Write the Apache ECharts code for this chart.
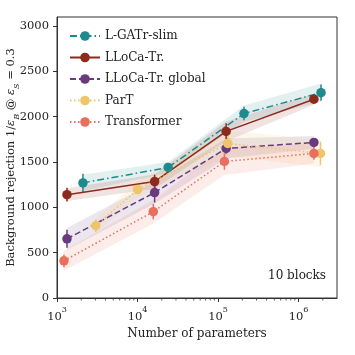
<!DOCTYPE html>
<html>
<head>
<meta charset="utf-8">
<script src="https://cdn.jsdelivr.net/npm/echarts@6/dist/echarts.min.js"></script>
<style>
  html, body { margin: 0; padding: 0; background: #fff; }
  #chart { width: 355px; height: 355px; }
</style>
</head>
<body>
<div id="chart"></div>
<script>
// data (x = number of parameters, y = 1/eps_B)
var gatrX = [2100, 24000, 210000, 1900000];
var gatrY = [1270, 1440, 2035, 2265];
var gatrErr = [100, 40, 75, 90];
var gatrBand = [90, 60, 90, 100];

var llocaX = [1330, 16300, 126000, 1550000];
var llocaY = [1140, 1285, 1838, 2193];
var llocaErr = [75, 75, 90, 40];
var llocaBand = [70, 80, 110, 60];

var globalX = [1330, 16300, 126000, 1550000];
var globalY = [653, 1163, 1650, 1716];
var globalErr = [100, 110, 60, 50];
var globalBand = [120, 120, 110, 70];

var partX = [3030, 10000, 132000, 1870000];
var partY = [797, 1196, 1705, 1595];
var partErr = [70, 40, 80, 130];
var partBand = [80, 90, 140, 150];

var transX = [1220, 15700, 120000, 1550000];
var transY = [410, 952, 1506, 1595];
var transErr = [70, 85, 90, 70];
var transBand = [110, 130, 150, 110];

var decades = [1000, 10000, 100000, 1000000];
var minorMult = [2, 3, 4, 5, 6, 7, 8, 9];

var FONT = "DejaVu Serif";
var myChart = echarts.init(document.getElementById("chart"));

function zip(xs, ys) {
  return xs.map(function (x, i) { return [x, ys[i]]; });
}

//阴影带
function bandSeries(xs, ys, band, color) {
  return {
    type: "custom",
    silent: true,
    z: 1,
    data: xs.map(function (x, i) { return [x, ys[i] - band[i], ys[i] + band[i]]; }),
    renderItem: function (params, api) {
      if (params.dataIndex !== 0) return;
      var upper = [], lower = [];
      for (var j = 0; j < xs.length; j++) {
        upper.push(api.coord([api.value(0, j), api.value(2, j)]));
        lower.unshift(api.coord([api.value(0, j), api.value(1, j)]));
      }
      return {
        type: "polygon",
        shape: { points: upper.concat(lower) },
        style: { fill: color, opacity: 0.13 },
      };
    },
  };
}

//误差线
function errSeries(xs, ys, err, color) {
  return {
    type: "custom",
    silent: true,
    z: 3,
    data: xs.map(function (x, i) { return [x, ys[i] - err[i], ys[i] + err[i]]; }),
    renderItem: function (params, api) {
      var a = api.coord([api.value(0), api.value(1)]);
      var b = api.coord([api.value(0), api.value(2)]);
      return {
        type: "line",
        shape: { x1: a[0], y1: a[1], x2: b[0], y2: b[1] },
        style: { stroke: color, lineWidth: 1.5 },
      };
    },
  };
}

function lineSeries(name, xs, ys, color, dash) {
  return {
    name: name,
    type: "line",
    z: 4,
    data: zip(xs, ys),
    symbol: "circle",
    symbolSize: 9.5,
    itemStyle: { color: color },
    lineStyle: { color: color, width: 1.5, type: dash },
  };
}

var series = [
  bandSeries(gatrX, gatrY, gatrBand, "#1f8a8e"),
  bandSeries(llocaX, llocaY, llocaBand, "#8c2a1e"),
  bandSeries(globalX, globalY, globalBand, "#6a3a7e"),
  bandSeries(partX, partY, partBand, "#f0c468"),
  bandSeries(transX, transY, transBand, "#e8705c"),
  errSeries(gatrX, gatrY, gatrErr, "#1f8a8e"),
  errSeries(llocaX, llocaY, llocaErr, "#8c2a1e"),
  errSeries(globalX, globalY, globalErr, "#6a3a7e"),
  errSeries(partX, partY, partErr, "#f0c468"),
  errSeries(transX, transY, transErr, "#e8705c"),
  lineSeries("L-GATr-slim", gatrX, gatrY, "#1f8a8e", [7, 3, 1.5, 3]),
  lineSeries("LLoCa-Tr.", llocaX, llocaY, "#8c2a1e", "solid"),
  lineSeries("LLoCa-Tr. global", globalX, globalY, "#6a3a7e", [6, 3]),
  lineSeries("ParT", partX, partY, "#f0c468", [1.5, 2.5]),
  lineSeries("Transformer", transX, transY, "#e8705c", [1.5, 2.5]),
  //x轴次刻度
  {
    type: "custom",
    silent: true,
    data: decades.reduce(function (acc, d) {
      minorMult.forEach(function (m) { if (d * m < 3e6) acc.push([d * m, 0]); });
      return acc;
    }, []),
    renderItem: function (params, api) {
      var p = api.coord([api.value(0), 0]);
      return {
        type: "line",
        shape: { x1: p[0], y1: p[1], x2: p[0], y2: p[1] + 2.5 },
        style: { stroke: "#333", lineWidth: 0.8 },
      };
    },
  },
];

myChart.setOption({
  animation: false,
  textStyle: { fontFamily: FONT },
  grid: {
    left: 57, right: 18, top: 17, bottom: 57,
    outerBoundsMode: "none",
    show: true, borderColor: "#333", borderWidth: 1,
  },
  legend: {
    left: 69,
    top: 30,
    orient: "vertical",
    padding: 0,
    itemWidth: 30,
    itemHeight: 12,
    itemGap: 9.5,
    textStyle: { fontFamily: FONT, fontSize: 12, color: "#222" },
    data: ["L-GATr-slim", "LLoCa-Tr.", "LLoCa-Tr. global", "ParT", "Transformer"],
  },
  xAxis: {
    type: "log",
    logBase: 10,
    min: 1000,
    max: 3000000,
    name: "Number of parameters",
    nameLocation: "middle",
    nameGap: 30,
    nameMoveOverlap: false,
    nameTextStyle: { fontFamily: FONT, fontSize: 12, color: "#222" },
    axisLine: { lineStyle: { color: "#333" } },
    axisTick: { length: 4, lineStyle: { color: "#333" } },
    splitLine: { show: false },
    axisLabel: {
      color: "#222",
      showMaxLabel: false,
      formatter: function (v) {
        return "{b|10}{sup|" + Math.round(Math.log10(v)) + "}";
      },
      rich: {
        b: { fontFamily: FONT, fontSize: 11.5, lineHeight: 17, verticalAlign: "bottom", color: "#222" },
        sup: { fontFamily: FONT, fontSize: 8, lineHeight: 17, verticalAlign: "top", color: "#222" },
      },
    },
  },
  yAxis: {
    type: "value",
    min: 0,
    max: 3100,
    interval: 500,
    name: "{n|Background rejection 1/}{i|ε}{s|B}{n| @ }{i|ε}{s|S}{n| = 0.3}",
    nameLocation: "middle",
    nameGap: 36,
    nameMoveOverlap: false,
    nameTextStyle: {
      color: "#222",
      rich: {
        n: { fontFamily: FONT, fontSize: 11.5, lineHeight: 16, verticalAlign: "top", color: "#222" },
        i: { fontFamily: FONT, fontStyle: "italic", fontSize: 11.5, lineHeight: 16, verticalAlign: "top", color: "#222" },
        s: { fontFamily: FONT, fontStyle: "italic", fontSize: 8, lineHeight: 16, verticalAlign: "bottom", color: "#222" },
      },
    },
    axisLine: { show: true, lineStyle: { color: "#333" } },
    axisTick: { show: true, length: 4, lineStyle: { color: "#333" } },
    splitLine: { show: false },
    axisLabel: {
      color: "#222",
      fontFamily: FONT,
      fontSize: 11.5,
      formatter: function (v) { return String(v); },
    },
  },
  graphic: [
    {
      type: "text",
      right: 29,
      top: 270,
      style: { text: "10 blocks", font: "12px 'DejaVu Serif'", fill: "#222" },
    },
  ],
  series: series,
});
</script>
</body>
</html>
